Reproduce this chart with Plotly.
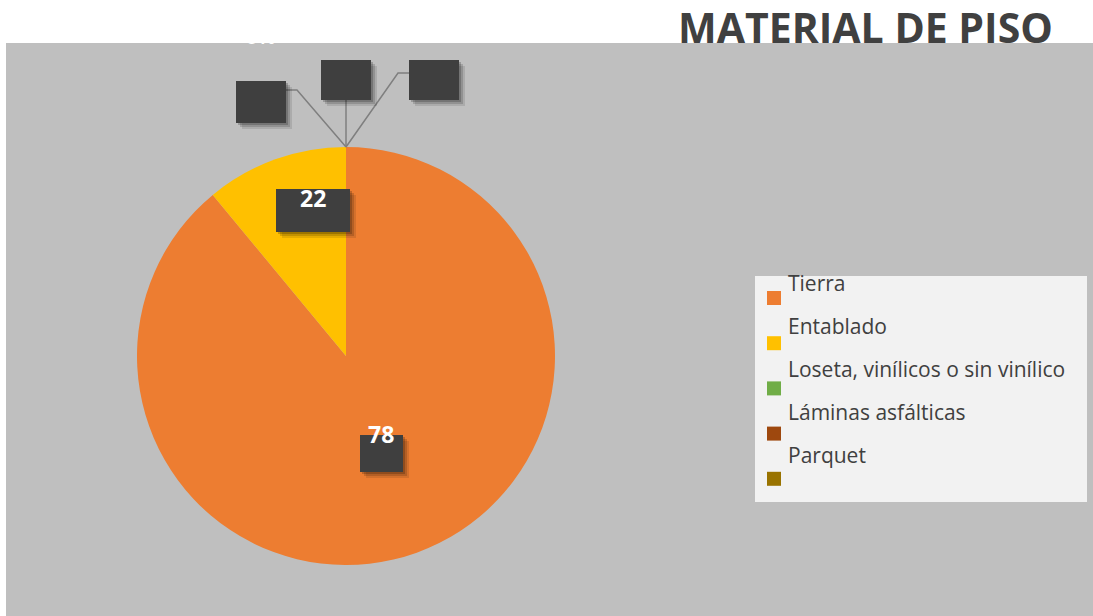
import math
import plotly.graph_objects as go

# ---- data ----
categories = ["Tierra", "Entablado", "Loseta, vinílicos o sin vinílico", "Láminas asfálticas", "Parquet"]
values = [178, 22, 0, 0, 0]
label_text = ["78", "22", "", "", ""]
colors = ["#ED7D31", "#FFC000", "#70AD47", "#9E480E", "#997300"]
title_text = "MATERIAL DE PISO"

# ---- layout helpers (pixels) ----
W, H = 1093, 616
cx, cy, r = 346, 356, 209

def px(x):
    return x / W

def py(y):
    return 1 - y / H

fig = go.Figure()
fig.add_trace(go.Pie(
    labels=categories, values=values, sort=False, direction="clockwise", rotation=0,
    marker=dict(colors=colors, line=dict(width=0)),
    textinfo="none", hoverinfo="label+value", showlegend=False,
    domain=dict(x=[px(cx - r), px(cx + r)], y=[py(cy + r), py(cy - r)]),
))

shapes = []
annotations = []
# plot-area background
shapes.append(dict(type="rect", xref="paper", yref="paper", x0=px(6), x1=1, y0=0, y1=py(43),
                   fillcolor="#BFBFBF", line=dict(width=0), layer="below"))

# data label boxes (pixel boxes: x0, y0, x1, y1) and text anchor
label_boxes = [
    ((360, 435, 403, 472), (381, 434)),   # Tierra
    ((276, 189, 350, 232), (313, 198)),   # Entablado
    ((236, 81, 286, 123), None),          # Loseta
    ((321, 60, 371, 100), None),          # Láminas
    ((409, 60, 459, 100), None),          # Parquet
]
# leader lines for zero slices (to top of pie)
top = (cx, cy - r)
leaders = [
    None, None,
    [(286, 90), (297, 90), top],
    [(346, 100), top],
    [(409, 73), (398, 73), top],
]
for pts in leaders:
    if pts:
        path = "M " + " L ".join(f"{px(x)},{py(y)}" for x, y in pts)
        shapes.append(dict(type="path", xref="paper", yref="paper", path=path,
                           line=dict(color="#7F7F7F", width=1.5)))

for i, (box, anchor) in enumerate(label_boxes):
    x0, y0, x1, y1 = box
    for k, a in ((6, 0.10), (4, 0.15), (2, 0.2)):
        shapes.append(dict(type="rect", xref="paper", yref="paper",
                           x0=px(x0 + k), x1=px(x1 + k), y0=py(y1 + k), y1=py(y0 + k),
                           fillcolor=f"rgba(0,0,0,{a})", line=dict(width=0)))
    shapes.append(dict(type="rect", xref="paper", yref="paper",
                       x0=px(x0), x1=px(x1), y0=py(y1), y1=py(y0),
                       fillcolor="#3F3F3F", line=dict(width=0)))
    if anchor and label_text[i]:
        annotations.append(dict(x=px(anchor[0]), y=py(anchor[1]), xref="paper", yref="paper",
                                text=f"<b>{label_text[i]}</b>", showarrow=False,
                                font=dict(family="Open Sans", size=23, color="white"),
                                xanchor="center", yanchor="middle"))

# clipped "0%" label at top
annotations.append(dict(x=px(260), y=py(37), xref="paper", yref="paper", text="<b>0%</b>",
                        showarrow=False, font=dict(family="Open Sans", size=20, color="white"),
                        xanchor="center", yanchor="middle"))

# legend (manual)
shapes.append(dict(type="rect", xref="paper", yref="paper", x0=px(755), x1=px(1087),
                   y0=py(502), y1=py(276), fillcolor="#F2F2F2", line=dict(width=0)))
for i, (name, col) in enumerate(zip(categories, colors)):
    sq_top = 291 + i * 45.2
    shapes.append(dict(type="rect", xref="paper", yref="paper", x0=px(767), x1=px(781),
                       y0=py(sq_top + 14), y1=py(sq_top), fillcolor=col, line=dict(width=0)))
    annotations.append(dict(x=px(786), y=py(283 + i * 43), xref="paper", yref="paper", text=name,
                            showarrow=False, xanchor="left", yanchor="middle",
                            font=dict(family="Open Sans", size=21, color="#404040")))

# title
annotations.append(dict(x=px(865), y=py(27), xref="paper", yref="paper",
                        text=f"<b>{title_text}</b>", showarrow=False,
                        xanchor="center", yanchor="middle",
                        font=dict(family="Open Sans", size=41, color="#404040")))

fig.update_layout(width=W, height=H, margin=dict(l=0, r=0, t=0, b=0),
                  paper_bgcolor="white", plot_bgcolor="white",
                  shapes=shapes, annotations=annotations, showlegend=False)
fig.write_html("out.html")
